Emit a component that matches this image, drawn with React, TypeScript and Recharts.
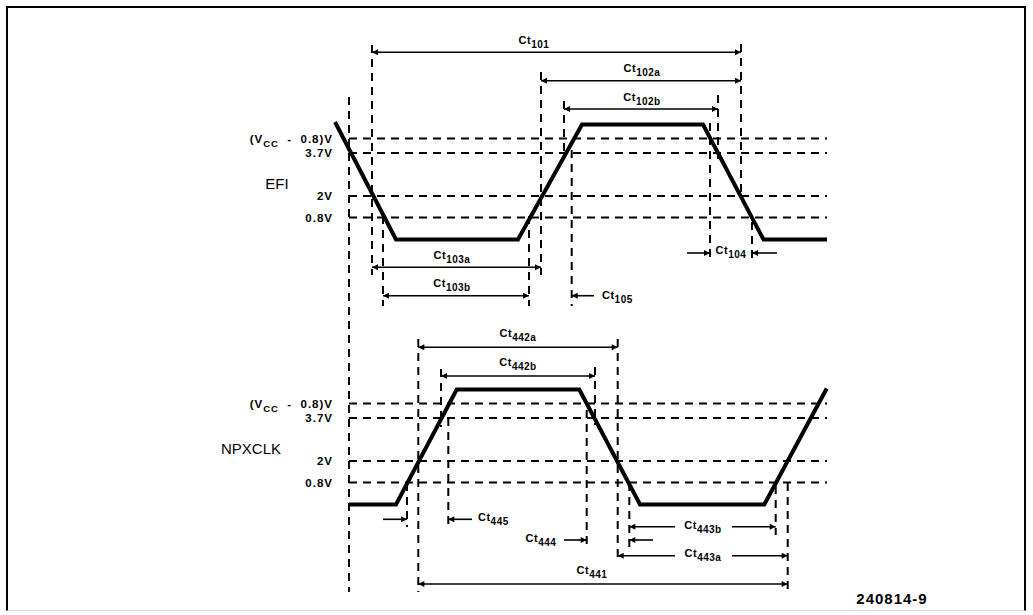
import React from "react";
import { ComposedChart, Line, XAxis, YAxis, ReferenceLine, ReferenceDot } from "recharts";

const W = 1033;
const H = 615;
const FONT = "'Liberation Sans', Arial, sans-serif";

// waveform breakpoints: time (arbitrary units, 0 = EFI falling through 3.7V) and drawn level
const efiTime = [-14, 47, 169, 233, 354, 414.5, 478];
const efiLevel = [117.5, 0, 0, 115, 115, 0, 0];
const npxTime = [0, 47, 107.7, 230.3, 291, 415.3, 477.7];
const npxLevel = [0, 0, 115, 115, 0, 0, 116];

// threshold levels shown as dashed lines
const thresholdLabels = ["(V|CC| - 0.8)V", "3.7V", "2V", "0.8V"];
const thresholdLevels = [101, 86.5, 43.5, 22];
const traceStart = 0;
const traceEnd = 478;

const signalNames = ["EFI", "NPXCLK"];
const figureId = "240814-9";

// timing parameter names
const efiParams = ["101", "102a", "102b", "103a", "103b", "104", "105"];
const npxParams = ["442a", "442b", "445", "444", "443b", "443a", "441"];

// layout: guide lines [t, top, bottom] in trace level units
const efiGuides = [
  [0, 142.5, -352.5], [23, 194.5, -35.5], [34, 23.5, -66.5], [180, 23.5, -66.5],
  [192, 167.5, -35.5], [215, 138.5, 87.5], [222.7, 89.5, -66.5], [361, 116.5, -21.5],
  [369, 144.5, 79.5], [392, 195.5, 42.5], [403, 17.5, -22.5],
];
const npxGuides = [
  [58, 21.5, -22.5], [69.3, 165.5, -87.5], [92, 135.5, 77.5], [99.3, 86.5, -22.5],
  [237.7, 94.5, -43.5], [246, 137.5, 79.5], [268.7, 165.5, -57.5], [280.3, 21.5, -43.5],
  [426.7, 18.5, -30.5], [438.7, 21.5, -87.5],
];

// layout: arrows [from, to, level, headAtBothEnds]
const efiArrows: [number, number, number, boolean][] = [
  [23, 392, 187.2, true], [192, 392, 158.8, true], [215, 369, 130.5, true],
  [23, 192, -27.8, true], [34, 180, -56.2, true], [338, 361, -13.5, false],
  [428, 403, -13.5, false], [245, 222.7, -56.2, false],
];
const npxArrows: [number, number, number, boolean][] = [
  [69.3, 268.7, 157.2, true], [92, 246, 128.5, true], [34, 58, -14.8, false],
  [123, 99.3, -14.8, false], [215, 237.7, -35.5, false], [326, 280.3, -22.2, false],
  [383, 426.7, -22.2, false], [304, 280.3, -35.5, false], [326, 268.7, -51.2, false],
  [383, 438.7, -51.2, false], [69.3, 438.7, -79.5, true],
];

// layout: label positions [t, level, anchor], same order as the param names
const efiLabelPos: [number, number, string][] = [
  [185, 199.5, "middle"], [293, 171.5, "middle"], [293, 142.5, "middle"],
  [103, -15.5, "middle"], [103, -43.5, "middle"], [382, -10.5, "middle"], [253, -55.5, "start"],
];
const npxLabelPos: [number, number, string][] = [
  [169, 171.5, "middle"], [169, 142.5, "middle"], [129, -12.5, "start"],
  [192, -33.5, "middle"], [354, -20.5, "middle"], [354, -48.5, "middle"], [243, -65.5, "middle"],
];

const dashed = { stroke: "#000", strokeWidth: 2, strokeDasharray: "8 6" };

const arrowShape = (both: boolean) => (p: any) => (
  <line
    x1={p.x1}
    y1={p.y1}
    x2={p.x2}
    y2={p.y2}
    stroke="#000"
    strokeWidth={1.6}
    markerEnd="url(#arrowHead)"
    markerStart={both ? "url(#arrowHead)" : undefined}
  />
);

const ctLabel = (sub: string, anchor: string) => (p: any) => (
  <text
    x={p.cx}
    y={p.cy}
    textAnchor={anchor}
    dominantBaseline="central"
    fontFamily={FONT}
    fontWeight="bold"
    fontSize={11}
    letterSpacing={0.5}
    fill="#000"
  >
    Ct
    <tspan fontSize={10} dy={4}>
      {sub}
    </tspan>
  </text>
);

const levelLabel = (label: string) => (p: any) => {
  const parts = label.split("|");
  return (
    <text
      x={p.cx}
      y={p.cy}
      textAnchor="end"
      dominantBaseline="central"
      fontFamily={FONT}
      fontWeight="bold"
      fontSize={11.5}
      letterSpacing={1}
      fill="#000"
      style={{ whiteSpace: "pre" }}
    >
      {parts.length === 1 ? (
        label
      ) : (
        <>
          {parts[0]}
          <tspan fontSize={9.5} dy={4}>
            {parts[1]}
          </tspan>
          <tspan dy={-4}>{parts[2].replace(" - ", "  -  ")}</tspan>
        </>
      )}
    </text>
  );
};

const plainLabel = (label: string, size: number, bold: boolean, spacing = 0) => (p: any) => (
  <text
    x={p.cx}
    y={p.cy}
    textAnchor="middle"
    dominantBaseline="central"
    fontFamily={FONT}
    fontWeight={bold ? "bold" : "normal"}
    fontSize={size}
    letterSpacing={spacing}
    fill="#000"
  >
    {label}
  </text>
);

function traceDecor(axis: string, guides: number[][], arrows: [number, number, number, boolean][], params: string[], pos: [number, number, string][]) {
  const out: React.ReactNode[] = [];
  thresholdLevels.forEach((lv, i) => {
    out.push(
      <ReferenceLine
        key={`${axis}-th-${i}`}
        yAxisId={axis}
        segment={[{ x: traceStart, y: lv }, { x: traceEnd, y: lv }]}
        {...dashed}
      />
    );
    out.push(
      <ReferenceDot key={`${axis}-thl-${i}`} yAxisId={axis} x={-16} y={lv} r={0} shape={levelLabel(thresholdLabels[i])} />
    );
  });
  guides.forEach(([t, top, bottom], i) => {
    out.push(
      <ReferenceLine
        key={`${axis}-g-${i}`}
        yAxisId={axis}
        segment={[{ x: t, y: top }, { x: t, y: bottom }]}
        {...dashed}
      />
    );
  });
  arrows.forEach(([a, b, lv, both], i) => {
    out.push(
      <ReferenceLine
        key={`${axis}-a-${i}`}
        yAxisId={axis}
        segment={[{ x: a, y: lv }, { x: b, y: lv }]}
        shape={arrowShape(both)}
      />
    );
  });
  params.forEach((name, i) => {
    const [t, lv, anchor] = pos[i];
    out.push(<ReferenceDot key={`${axis}-l-${i}`} yAxisId={axis} x={t} y={lv} r={0} shape={ctLabel(name, anchor)} />);
  });
  return out;
}

export default function App() {
  const efiData = efiTime.map((t, i) => ({ t, v: efiLevel[i] }));
  const npxData = npxTime.map((t, i) => ({ t, v: npxLevel[i] }));

  return (
    <div style={{ position: "absolute", left: 0, top: 0, width: W, height: H, background: "#fff" }}>
      <svg width={0} height={0} style={{ position: "absolute" }}>
        <defs>
          <marker
            id="arrowHead"
            viewBox="0 0 10 10"
            refX="10"
            refY="5"
            markerUnits="userSpaceOnUse"
            markerWidth="9"
            markerHeight="6"
            orient="auto-start-reverse"
          >
            <path d="M0,0 L10,5 L0,10 Z" fill="#000" />
          </marker>
        </defs>
      </svg>
      <div
        style={{
          position: "absolute",
          left: 6,
          top: 6,
          width: 1016,
          height: 602,
          borderTop: "2px solid #000",
          borderLeft: "2px solid #000",
          borderRight: "2px solid #000",
          borderBottom: "1px solid #ddd",
        }}
      />
      <ComposedChart
        width={W}
        height={H}
        margin={{ top: 0, right: 0, bottom: 0, left: 0 }}
        style={{ position: "absolute", left: 0, top: 0 }}
      >
        <XAxis type="number" dataKey="t" domain={[-349, 684]} allowDataOverflow hide />
        <YAxis yAxisId="efi" type="number" domain={[-375.5, 239.5]} allowDataOverflow hide />
        <YAxis yAxisId="npx" type="number" domain={[-110.5, 504.5]} allowDataOverflow hide />

        {traceDecor("efi", efiGuides, efiArrows, efiParams, efiLabelPos)}
        {traceDecor("npx", npxGuides, npxArrows, npxParams, npxLabelPos)}

        <ReferenceDot yAxisId="efi" x={-72} y={56.5} r={0} shape={plainLabel(signalNames[0], 15, false)} />
        <ReferenceDot yAxisId="npx" x={-98} y={56.5} r={0} shape={plainLabel(signalNames[1], 15, false)} />
        <ReferenceDot yAxisId="npx" x={543} y={-93.5} r={0} shape={plainLabel(figureId, 15, true, 1)} />

        <Line
          data={efiData}
          yAxisId="efi"
          dataKey="v"
          type="linear"
          stroke="#000"
          strokeWidth={4}
          dot={false}
          activeDot={false}
          isAnimationActive={false}
        />
        <Line
          data={npxData}
          yAxisId="npx"
          dataKey="v"
          type="linear"
          stroke="#000"
          strokeWidth={4}
          dot={false}
          activeDot={false}
          isAnimationActive={false}
        />
      </ComposedChart>
    </div>
  );
}
